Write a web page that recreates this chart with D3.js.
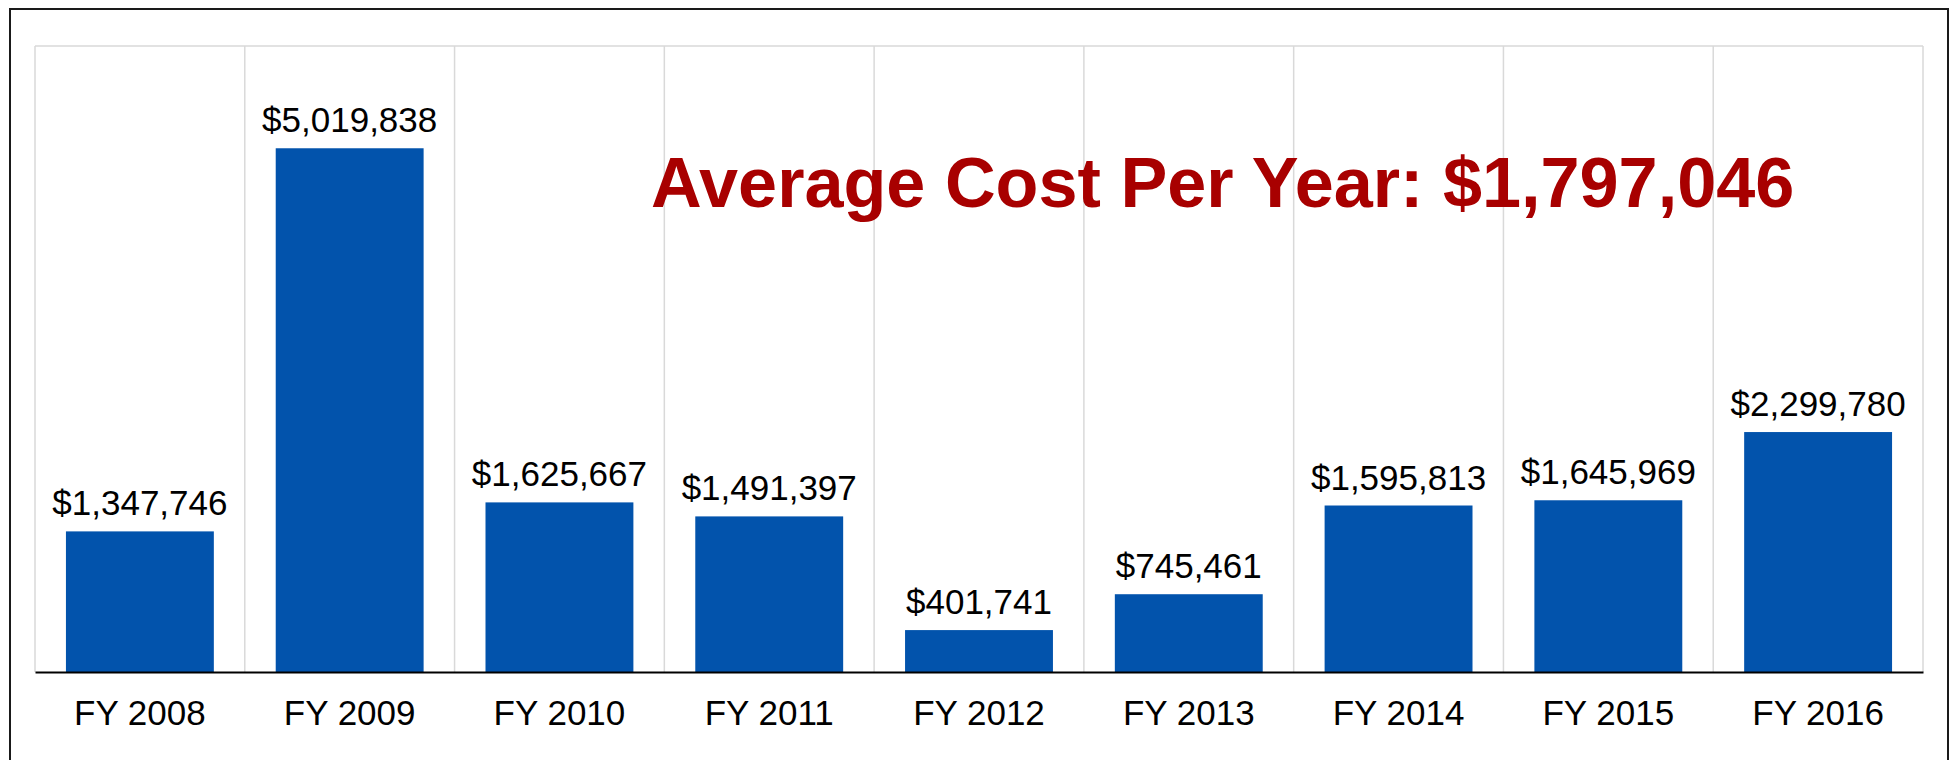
<!DOCTYPE html>
<html>
<head>
<meta charset="utf-8">
<script src="https://cdn.jsdelivr.net/npm/d3@7"></script>
<style>
  body { margin: 0; background: #fff; }
  text { font-family: "Liberation Sans", Arial, sans-serif; }
</style>
</head>
<body>
<div id="chart"></div>
<script>
// Chart data
let years = ["FY 2008", "FY 2009", "FY 2010", "FY 2011", "FY 2012",
             "FY 2013", "FY 2014", "FY 2015", "FY 2016"];
let costs = [1347746, 5019838, 1625667, 1491397, 401741,
             745461, 1595813, 1645969, 2299780];
let averageLabel = "Average Cost Per Year: $1,797,046";
let yMax = 6000000;

let width = 1955;
let height = 760;

let svg = d3.select("#chart")
  .append("svg")
  .attr("width", width).attr("height", height);

// outer frame (bottom edge runs off the picture)
svg.append("rect")
  .attr("x", 10).attr("y", 9)
  .attr("width", 1938).attr("height", 800)
  .attr("fill", "none")
  .attr("stroke", "#1a1a1a")
  .attr("stroke-width", 2);

let plotLeft = 35, plotRight = 1923, plotTop = 46, plotBottom = 672;

let xScale = d3.scaleBand()
  .domain(years)
  .range([plotLeft, plotRight])
  .paddingInner(0.295)
  .paddingOuter(0.1475);

let yScale = d3.scaleLinear()
  .domain([0, yMax])
  .range([plotBottom, plotTop]);

let step = xScale.step();

// vertical grid lines at category boundaries
svg.append("g")
  .selectAll("line")
  .data(d3.range(years.length + 1))
  .enter()
  .append("line")
  .attr("x1", function(i) { return plotLeft + i * step; })
  .attr("x2", function(i) { return plotLeft + i * step; })
  .attr("y1", plotTop)
  .attr("y2", plotBottom)
  .attr("stroke", "#d9d9d9")
  .attr("stroke-width", 1.5);

// top grid line
svg.append("line")
  .attr("x1", plotLeft).attr("x2", plotRight)
  .attr("y1", yScale(yMax)).attr("y2", yScale(yMax))
  .attr("stroke", "#d9d9d9")
  .attr("stroke-width", 1.5);

// bars
svg.append("g")
  .selectAll("rect")
  .data(costs)
  .enter()
  .append("rect")
  .attr("x", function(d, i) { return xScale(years[i]); })
  .attr("y", function(d) { return yScale(d); })
  .attr("width", xScale.bandwidth())
  .attr("height", function(d) { return yScale(0) - yScale(d); })
  .attr("fill", "#0253ac");

// value labels
let fmt = d3.format("$,");
svg.append("g")
  .selectAll("text")
  .data(costs)
  .enter()
  .append("text")
  .attr("x", function(d, i) { return xScale(years[i]) + xScale.bandwidth() / 2; })
  .attr("y", function(d) { return yScale(d) - 16; })
  .attr("text-anchor", "middle")
  .attr("font-size", 35)
  .attr("fill", "#000")
  .text(function(d) { return fmt(d); });

// x axis
let xAxis = d3.axisBottom(xScale).tickSize(0).tickPadding(28);
let axisG = svg.append("g")
  .attr("transform", "translate(0," + plotBottom + ")")
  .call(xAxis);
axisG.select(".domain").attr("stroke", "#000").attr("stroke-width", 2);
axisG.selectAll("text")
  .attr("font-size", 35)
  .attr("fill", "#000")
  .style("font-family", "Liberation Sans, Arial, sans-serif");

// average annotation
svg.append("text")
  .attr("x", 651)
  .attr("y", 207)
  .attr("font-size", 70.2)
  .attr("font-weight", "bold")
  .attr("fill", "#a80000")
  .text(averageLabel);
</script>
</body>
</html>
